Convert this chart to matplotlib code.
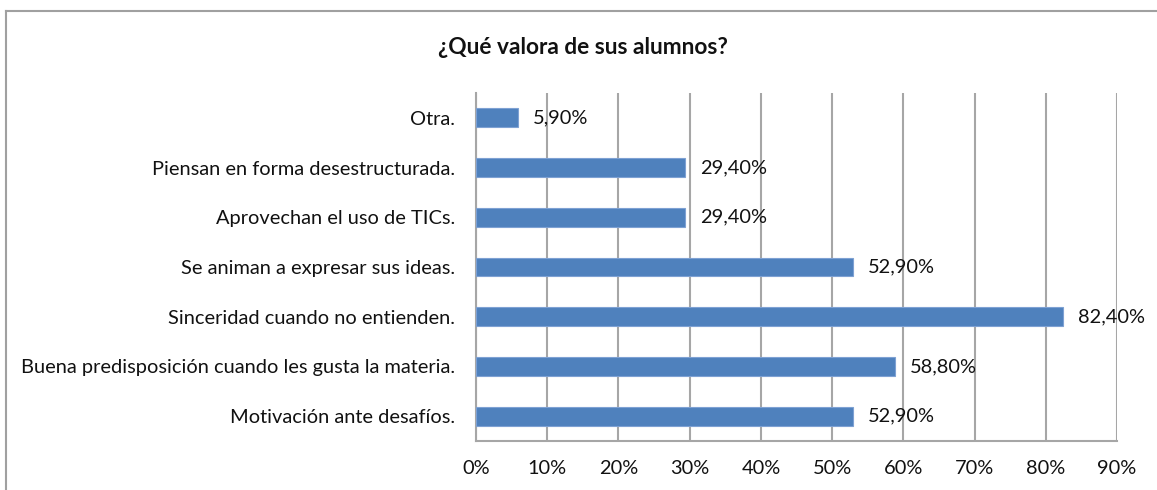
import numpy as np
import matplotlib.pyplot as plt
from matplotlib.lines import Line2D

categories = [
    "Motivación ante desafíos.",
    "Buena predisposición cuando les gusta la materia.",
    "Sinceridad cuando no entienden.",
    "Se animan a expresar sus ideas.",
    "Aprovechan el uso de TICs.",
    "Piensan en forma desestructurada.",
    "Otra.",
]
values = [52.9, 58.8, 82.4, 52.9, 29.4, 29.4, 5.9]
value_labels = ["52,90%", "58,80%", "82,40%", "52,90%", "29,40%", "29,40%", "5,90%"]
x_ticks = [0, 10, 20, 30, 40, 50, 60, 70, 80, 90]
x_tick_labels = [f"{t}%" for t in x_ticks]
title = "¿Qué valora de sus alumnos?"

plt.rcParams["font.family"] = ["Lato", "DejaVu Sans"]

fig = plt.figure(figsize=(11.57, 4.90), dpi=100)
ax = fig.add_axes([476 / 1157, 1 - 441 / 490, 641 / 1157, 348 / 490])

grid_color = "#a6a6a6"
text_color = "#111111"
fs = 14.4

y = np.arange(len(categories))
ax.barh(y, values, height=0.38, color="#4f81bd", edgecolor="#7ea1d3", linewidth=0.8, zorder=3)

for yi, v, lab in zip(y, values, value_labels):
    ax.annotate(lab, (v, yi), xytext=(15, 0), textcoords="offset pixels",
                va="center", ha="left", fontsize=fs, color=text_color, zorder=4)

ax.set_xlim(0, 90)
ax.set_ylim(-0.5, len(categories) - 0.5)
ax.set_xticks(x_ticks)
ax.set_xticklabels(x_tick_labels, fontsize=fs, color=text_color)
ax.set_yticks(y)
ax.set_yticklabels(categories, fontsize=fs, color=text_color)
ax.tick_params(axis="both", length=0)
ax.tick_params(axis="x", pad=14)
ax.tick_params(axis="y", pad=15)

ax.grid(axis="x", color=grid_color, linewidth=1.5, zorder=0)
for side in ["top", "right"]:
    ax.spines[side].set_visible(False)
for side in ["left", "bottom"]:
    ax.spines[side].set_color(grid_color)
    ax.spines[side].set_linewidth(1.5)

fig.text(583 / 1157, 1 - 47 / 490, title, ha="center", va="center",
         fontsize=16.3, fontweight="bold", color=text_color)

# chart frame (only top and left edges show in the picture)
fig.add_artist(Line2D([6 / 1157, 1], [1 - 11 / 490, 1 - 11 / 490], color="#a0a0a0", linewidth=1.5))
fig.add_artist(Line2D([6 / 1157, 6 / 1157], [0, 1 - 11 / 490], color="#a0a0a0", linewidth=1.5))

fig.savefig("out.png", dpi=100)
